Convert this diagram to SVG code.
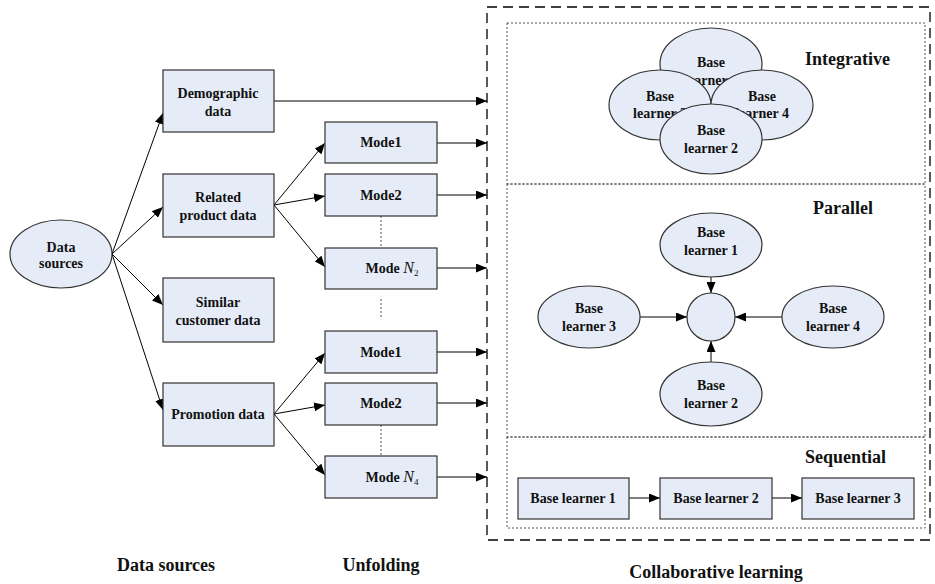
<svg xmlns="http://www.w3.org/2000/svg" width="935" height="584" viewBox="0 0 935 584">
<style>
.n{fill:#E6ECF7;stroke:#333;stroke-width:1.2}
.t{font-family:"Liberation Serif","Times New Roman",serif;font-weight:bold;font-size:14px;fill:#111;text-anchor:middle}
.h{font-family:"Liberation Serif","Times New Roman",serif;font-weight:bold;font-size:18px;fill:#111}
.c line{stroke:#000;stroke-width:1;marker-end:url(#ah)}
.dot{stroke:#555;stroke-width:1;stroke-dasharray:2,2;fill:none}
</style>
<defs>
<marker id="ah" markerUnits="userSpaceOnUse" markerWidth="11" markerHeight="9" refX="11" refY="4.5" orient="auto"><path d="M0,0 L11,4.5 L0,9 z" fill="#000"/></marker>
</defs>
<rect id="collab-box" x="487" y="7" width="443" height="533" fill="none" stroke="#000" stroke-width="1.3" stroke-dasharray="10,6"/>
<rect id="integrative-box" class="dot" x="507" y="23" width="418" height="161"/>
<rect id="parallel-box" class="dot" x="507" y="184" width="418" height="253"/>
<rect id="sequential-box" class="dot" x="507" y="437" width="418" height="91"/>
<line class="dot" x1="381" y1="216" x2="381" y2="248"/>
<line class="dot" x1="381" y1="299" x2="381" y2="318"/>
<line class="dot" x1="381" y1="425" x2="381" y2="456"/>
<g class="c" id="connectors">
<line x1="112" y1="254" x2="163" y2="113"/>
<line x1="112" y1="254" x2="163" y2="207"/>
<line x1="112" y1="254" x2="163" y2="305"/>
<line x1="112" y1="254" x2="163" y2="410"/>
<line x1="274" y1="101" x2="487" y2="101"/>
<line x1="274" y1="205" x2="325" y2="143"/>
<line x1="274" y1="205" x2="325" y2="196"/>
<line x1="274" y1="205" x2="325" y2="267"/>
<line x1="274" y1="414" x2="325" y2="353"/>
<line x1="274" y1="414" x2="325" y2="405"/>
<line x1="274" y1="414" x2="325" y2="475"/>
<line x1="437" y1="143" x2="487" y2="143"/>
<line x1="437" y1="195" x2="487" y2="195"/>
<line x1="437" y1="268" x2="487" y2="268"/>
<line x1="437" y1="352" x2="487" y2="352"/>
<line x1="437" y1="403" x2="487" y2="403"/>
<line x1="437" y1="477" x2="487" y2="477"/>
<line x1="711" y1="277" x2="711" y2="293"/>
<line x1="640" y1="317" x2="687" y2="317"/>
<line x1="782" y1="317" x2="735" y2="317"/>
<line x1="711" y1="362" x2="711" y2="341"/>
<line x1="629" y1="498" x2="660" y2="498"/>
<line x1="772" y1="498" x2="802" y2="498"/>
</g>
<g id="data-sources"><ellipse class="n" cx="61" cy="254" rx="51" ry="34"/><text class="t" x="61" y="252">Data</text><text class="t" x="61" y="268">sources</text></g>
<g id="demographic"><rect class="n" x="163" y="70" width="111" height="62"/><text class="t" x="218" y="98">Demographic</text><text class="t" x="218" y="116">data</text></g>
<g id="related"><rect class="n" x="163" y="174" width="111" height="63"/><text class="t" x="218" y="202">Related</text><text class="t" x="218" y="220">product data</text></g>
<g id="similar"><rect class="n" x="163" y="278" width="111" height="64"/><text class="t" x="218" y="307">Similar</text><text class="t" x="218" y="325">customer data</text></g>
<g id="promotion"><rect class="n" x="163" y="383" width="111" height="63"/><text class="t" x="218" y="419">Promotion data</text></g>
<g id="mode1a"><rect class="n" x="325" y="122" width="112" height="41"/><text class="t" x="381" y="147">Mode<tspan font-size="15">1</tspan></text></g>
<g id="mode2a"><rect class="n" x="325" y="174" width="112" height="42"/><text class="t" x="381" y="200">Mode<tspan font-size="15">2</tspan></text></g>
<g id="modeN2"><rect class="n" x="325" y="248" width="112" height="41"/><text class="t" x="392" y="273">Mode <tspan font-style="italic" font-weight="normal" font-size="16">N</tspan><tspan font-weight="normal" font-size="9" dy="3">2</tspan></text></g>
<g id="mode1b"><rect class="n" x="325" y="331" width="112" height="42"/><text class="t" x="381" y="357">Mode<tspan font-size="15">1</tspan></text></g>
<g id="mode2b"><rect class="n" x="325" y="383" width="112" height="42"/><text class="t" x="381" y="408">Mode<tspan font-size="15">2</tspan></text></g>
<g id="modeN4"><rect class="n" x="325" y="456" width="112" height="42"/><text class="t" x="392" y="482">Mode <tspan font-style="italic" font-weight="normal" font-size="16">N</tspan><tspan font-weight="normal" font-size="9" dy="3">4</tspan></text></g>
<text class="h" x="805" y="65">Integrative</text>
<g id="int-bl1"><ellipse class="n" cx="711" cy="64" rx="51" ry="36"/><text class="t" x="711" y="67">Base</text><text class="t" x="711" y="85">learner 1</text></g>
<g id="int-bl3"><ellipse class="n" cx="660" cy="105" rx="51" ry="35"/><text class="t" x="660" y="101">Base</text><text class="t" x="660" y="118">learner 3</text></g>
<g id="int-bl4"><ellipse class="n" cx="762" cy="105" rx="51" ry="35"/><text class="t" x="762" y="101">Base</text><text class="t" x="762" y="118">learner 4</text></g>
<g id="int-bl2"><ellipse class="n" cx="711" cy="139" rx="51" ry="35"/><text class="t" x="711" y="135">Base</text><text class="t" x="711" y="153">learner 2</text></g>
<text class="h" x="813" y="214">Parallel</text>
<g id="par-bl1"><ellipse class="n" cx="711" cy="245" rx="51" ry="32"/><text class="t" x="711" y="237">Base</text><text class="t" x="711" y="255">learner 1</text></g>
<g id="par-center"><circle class="n" cx="711" cy="317" r="24"/></g>
<g id="par-bl3"><ellipse class="n" cx="589" cy="317" rx="51" ry="31"/><text class="t" x="589" y="313">Base</text><text class="t" x="589" y="331">learner 3</text></g>
<g id="par-bl4"><ellipse class="n" cx="833" cy="317" rx="51" ry="31"/><text class="t" x="833" y="313">Base</text><text class="t" x="833" y="331">learner 4</text></g>
<g id="par-bl2"><ellipse class="n" cx="711" cy="394" rx="51" ry="32"/><text class="t" x="711" y="390">Base</text><text class="t" x="711" y="408">learner 2</text></g>
<text class="h" x="805" y="463">Sequential</text>
<g id="seq-bl1"><rect class="n" x="518" y="478" width="111" height="41"/><text class="t" x="573" y="503">Base learner 1</text></g>
<g id="seq-bl2"><rect class="n" x="660" y="478" width="112" height="41"/><text class="t" x="716" y="503">Base learner 2</text></g>
<g id="seq-bl3"><rect class="n" x="802" y="478" width="112" height="41"/><text class="t" x="858" y="503">Base learner 3</text></g>
<text class="h" x="166" y="571" text-anchor="middle">Data sources</text>
<text class="h" x="381" y="571" text-anchor="middle">Unfolding</text>
<text class="h" x="716" y="578" text-anchor="middle">Collaborative learning</text>
</svg>
